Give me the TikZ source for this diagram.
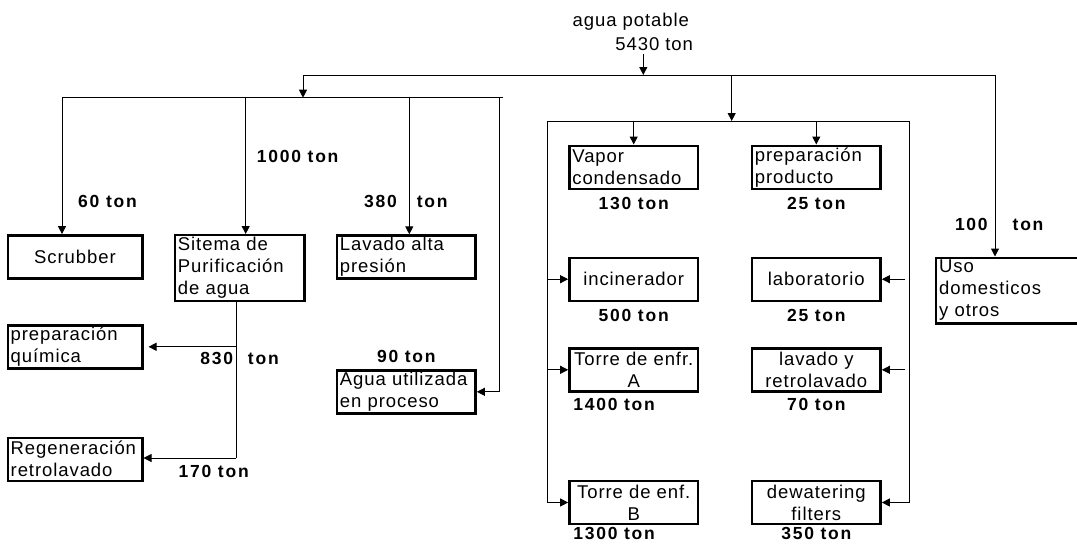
\documentclass[tikz,border=0pt]{standalone}
\usepackage{fontspec}
\setmainfont{Liberation Sans}
\newfontfamily\boxfont[LetterSpace=5]{Liberation Sans}
\newfontfamily\tonfont[LetterSpace=10]{Liberation Sans}
\usetikzlibrary{positioning, arrows.meta}

\begin{document}
\begin{tikzpicture}[
    x=1pt, y=-1pt,
    txt/.style={font=\boxfont\fontsize{18.5}{22}\selectfont, inner sep=0pt},
    box/.style={draw, line width=2.4pt, minimum height=43pt, inner xsep=3pt, inner ysep=0pt,
      font=\boxfont\fontsize{18.5}{22}\selectfont},
    lbox/.style={box, align=left, text width=#1},
    cbox/.style={box, align=center, minimum width=#1},
    ton/.style={font=\tonfont\bfseries\fontsize{17.5}{21}\selectfont, inner sep=0pt},
    line/.style={line width=1pt},
    arrow/.style={-{Triangle[length=8pt, width=8pt]}, line width=1pt}
  ]
  \useasboundingbox (0,0) rectangle (1077,544);

  % Source
  \node[txt, anchor=base] (src) at (630.8,26.7) {agua potable};
  \node[txt, anchor=base] (qty) at (654.2,50) {5430 ton};

  % Distribution points
  \coordinate (feedtop) at (643.3,54);
  \coordinate (feed) at (643.3,75);
  \coordinate (tl) at (303,75);
  \coordinate (tr) at (995,75);
  \coordinate (mid) at (731.7,75);
  \coordinate (bl) at (62,97.7);
  \coordinate (br) at (502.7,97.7);
  \coordinate (d2) at (245.7,97.7);
  \coordinate (d3) at (409.3,97.7);
  \coordinate (rb) at (499.3,97.7);
  \coordinate (gl) at (547.3,121);
  \coordinate (gr) at (909.3,121);
  \coordinate (pv) at (236,458);

  % Left group
  \node[cbox=134.6pt] (scrub) at (75,256.8) {Scrubber};
  \node[lbox=123.7pt, minimum height=66pt] (purif) at (239.8,268.2) {Sitema de\\Purificación\\de agua};
  \node[lbox=132.7pt] (lavado) at (406.3,257) {Lavado alta\\presión};
  \node[lbox=128.6pt] (quim) at (75,346.8) {preparación\\química};
  \node[lbox=128.6pt] (regen) at (75,459.2) {Regeneración\\retrolavado};
  \node[lbox=132.7pt] (agua) at (406.3,391.8) {Agua utilizada\\en proceso};

  % Process group
  \node[lbox=122.7pt] (vapor) at (633.7,167.2) {Vapor\\condensado};
  \node[lbox=122.7pt] (prod) at (816.3,167.2) {preparación\\producto};
  \node[cbox=128.7pt] (incin) at (633.7,279.2) {incinerador};
  \node[cbox=128.7pt] (lab) at (816.3,279.2) {laboratorio};
  \node[cbox=128.7pt] (torreA) at (633.7,369.8) {Torre de enfr.\\A};
  \node[cbox=128.7pt] (lavret) at (816.3,369.8) {lavado y\\retrolavado};
  \node[cbox=128.7pt] (torreB) at (633.7,502.5) {Torre de enf.\\B};
  \node[cbox=128.7pt] (dewat) at (816.3,502.5) {dewatering\\filters};

  % Domestic use
  \node[lbox=150pt, anchor=west, minimum height=65.6pt] (uso) at (935,290.5) {Uso\\domesticos\\y otros};

  % Quantities
  \node[ton, anchor=base] (t60) at (107.5,207.3) {60 ton};
  \node[ton, anchor=base] (t1000) at (297.7,162.3) {1000 ton};
  \node[ton, anchor=base] (t380) at (405.8,207.3) {380\hspace{20pt}ton};
  \node[ton, anchor=base] (t830) at (239.5,364.6) {830\hspace{15pt}ton};
  \node[ton, anchor=base] (t170) at (213.7,477.3) {170 ton};
  \node[ton, above=6pt of agua] (t90) {90 ton};
  \node[ton, anchor=base] (t100) at (999.2,230.3) {100\hspace{25pt}ton};
  \node[ton, below=7pt of vapor] (t130) {130 ton};
  \node[ton, below=7pt of prod] (t25a) {25 ton};
  \node[ton, below=7pt of incin] (t500) {500 ton};
  \node[ton, below=7pt of lab] (t25b) {25 ton};
  \node[ton, below right=6pt and 5pt of torreA.south west] (t1400) {1400 ton};
  \node[ton, below=6pt of lavret] (t70) {70 ton};
  \node[ton, below right=2pt and 5pt of torreB.south west] (t1300) {1300 ton};
  \node[ton, below=2pt of dewat] (t350) {350 ton};

  % Main supply
  \draw[arrow] (feedtop) -- (feed);
  \draw[line] (tl) -- (tr);
  \draw[arrow] (tl) -- (tl |- bl);
  \draw[line] (bl) -- (br);

  % Left connections
  \draw[arrow] (bl) -- (bl |- scrub.north);
  \draw[arrow] (d2) -- (d2 |- purif.north);
  \draw[arrow] (d3) -- (d3 |- lavado.north);
  \draw[arrow] (rb) |- (agua.east);
  \draw[line] (pv |- purif.south) -- (pv);
  \draw[arrow, shorten >=5pt] (pv |- quim.east) -- (quim.east);
  \draw[arrow] (pv) -- (pv -| regen.east);

  % Process connections
  \draw[arrow] (mid) -- (mid |- gl);
  \draw[line] (gl) -- (gr);
  \draw[arrow] (vapor.north |- gl) -- (vapor.north);
  \draw[arrow] (prod.north |- gl) -- (prod.north);
  \draw[arrow] (gl |- incin.west) -- (incin.west);
  \draw[arrow] (gl |- torreA.west) -- (torreA.west);
  \draw[arrow] (gl) |- (torreB.west);
  \draw[arrow, shorten <=4pt] (gr |- lab.east) -- (lab.east);
  \draw[arrow, shorten <=4pt] (gr |- lavret.east) -- (lavret.east);
  \draw[arrow] (gr) |- (dewat.east);

  % Domestic
  \draw[arrow] (tr) -- (tr |- uso.north);

\end{tikzpicture}
\end{document}
